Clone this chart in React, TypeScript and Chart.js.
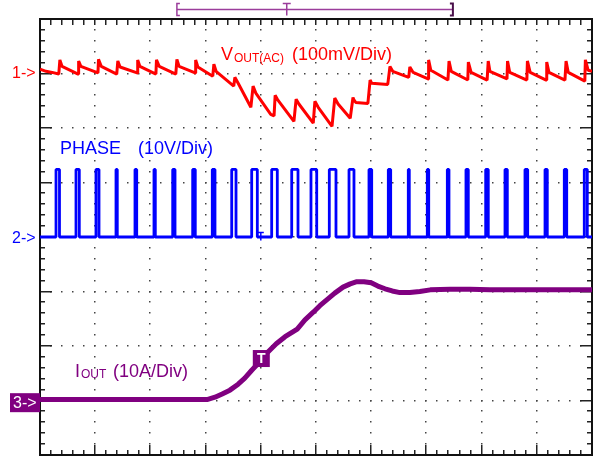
import React, { useEffect, useRef } from 'react';
import { Chart, registerables } from 'chart.js';

Chart.register(...registerables);

// ---- screen geometry (divisions) ----
const X_DIVS = 10;
const Y_DIVS = 8;

// ---- channel settings ----
const CH1_OFFSET_DIV = 7.03; // VOUT(AC) ground marker
const CH1_MV_PER_DIV = 100;
const CH2_OFFSET_DIV = 4.0; // PHASE ground marker
const CH2_V_PER_DIV = 10;
const CH3_OFFSET_DIV = 0.96; // IOUT ground marker
const CH3_A_PER_DIV = 10;

// ---- CH1: VOUT(AC) ripple + transient (time in div, value in mV) ----
const voutTime = [
  0, 0.11, 0.22, 0.34, 0.36, 0.4, 0.69, 0.7, 0.74, 1.05, 1.06, 1.11, 1.39, 1.41, 1.45,
  1.76, 1.77, 1.81, 2.1, 2.11, 2.16, 2.46, 2.48, 2.52, 2.81, 2.82, 2.86, 3.13, 3.15, 3.19,
  3.51, 3.53, 3.59, 3.82, 3.86, 3.91, 4.18, 4.24, 4.26, 4.31, 4.6, 4.64, 4.69, 4.95, 4.98,
  5.04, 5.29, 5.34, 5.4, 5.62, 5.67, 5.69, 5.72, 5.94, 5.98, 6.01, 6.3, 6.34, 6.39, 6.68,
  6.7, 6.76, 7.03, 7.04, 7.08, 7.39, 7.41, 7.45, 7.75, 7.76, 7.81, 8.1, 8.12, 8.15, 8.46,
  8.47, 8.51, 8.82, 8.83, 8.88, 9.17, 9.18, 9.22, 9.51, 9.53, 9.57, 9.87, 9.88, 9.93, 10.0,
];
const voutMv = [
  5, 1, -1, -4, 22, 10, -4, 20, 10, -2, 23, 10, -4, 20, 9,
  -2, 22, 10, -4, 22, 10, -4, 23, 10, -2, 22, 9, -8, 14, 1,
  -26, -10, -21, -65, -26, -39, -78, -81, -43, -52, -91, -50, -59, -94, -54,
  -65, -100, -48, -59, -85, -47, -52, -56, -58, -15, -21, -23, 10, 1, -10,
  9, -1, -13, 22, 3, -15, 20, 1, -15, 18, -1, -15, 20, 1, -13,
  20, -1, -15, 20, -1, -15, 18, -1, -15, 20, -1, -17, 22, 3, 1,
];

// ---- CH2: PHASE switching node (pulse edges in div, level in V) ----
const phaseRise = [
  0.29, 0.652, 1.014, 1.377, 1.721, 2.065, 2.404, 2.766, 3.121, 3.473, 3.835, 4.197, 4.56, 4.909,
  5.241, 5.598, 5.96, 6.31, 6.672, 7.016, 7.379, 7.717, 8.074, 8.424, 8.786, 9.149, 9.498, 9.86,
];
const phaseFall = [
  0.353, 0.712, 1.069, 1.4, 1.752, 2.089, 2.446, 2.813, 3.17, 3.551, 3.937, 4.299, 4.674, 5.013,
  5.362, 5.688, 6.009, 6.353, 6.69, 7.042, 7.409, 7.759, 8.121, 8.466, 8.835, 9.19, 9.542, 9.915,
];
const PHASE_HIGH_V = 12.4;

// ---- CH3: IOUT (time in div, value in A) ----
const ioutTime = [
  0, 1.09, 1.99, 2.9, 3.04, 3.17, 3.3, 3.44, 3.59, 3.71, 3.84, 3.99, 4.13, 4.28, 4.44, 4.66,
  4.8, 4.95, 5.07, 5.2, 5.34, 5.49, 5.62, 5.74, 5.87, 6.0, 6.12, 6.25, 6.38, 6.52, 6.7, 6.88,
  7.07, 7.43, 7.79, 8.15, 8.51, 9.06, 9.6, 10.0,
];
const ioutAmps = [
  0.6, 0.6, 0.6, 0.6, 0.6, 1.0, 1.6, 2.3, 3.4, 4.5, 6.0, 7.6, 9.3, 10.8, 12.1, 13.5,
  15.2, 16.6, 17.8, 18.9, 20.1, 21.2, 21.8, 22.2, 22.2, 22.0, 21.4, 20.9, 20.5, 20.2, 20.2, 20.4,
  20.7, 20.8, 20.8, 20.7, 20.7, 20.7, 20.7, 20.7,
];

// ---- trigger & record window (div) ----
const TRIGGER_T = 4.0;
const TRIGGER_A = 8.1;
const RECORD_START = 2.48;
const RECORD_END = 7.48;
const RECORD_TRIGGER = 4.47;

const FONT = '"Liberation Sans", Arial, Helvetica, sans-serif';
const RED = '#ff0000';
const BLUE = '#0000ff';
const PURPLE = '#800080';

function buildVout() {
  return voutTime.map((t, i) => ({ x: t, y: CH1_OFFSET_DIV + voutMv[i] / CH1_MV_PER_DIV }));
}
function buildPhase() {
  const pts: { x: number; y: number }[] = [{ x: 0, y: CH2_OFFSET_DIV }];
  const hi = CH2_OFFSET_DIV + PHASE_HIGH_V / CH2_V_PER_DIV;
  phaseRise.forEach((r, i) => {
    const f = phaseFall[i];
    pts.push({ x: r, y: CH2_OFFSET_DIV }, { x: r, y: hi }, { x: f, y: hi }, { x: f, y: CH2_OFFSET_DIV });
  });
  pts.push({ x: X_DIVS, y: CH2_OFFSET_DIV });
  return pts;
}
function buildIout() {
  return ioutTime.map((t, i) => ({ x: t, y: CH3_OFFSET_DIV + ioutAmps[i] / CH3_A_PER_DIV }));
}

const scopePlugin = {
  id: 'scopeDecor',
  beforeDatasetsDraw(chart: any) {
    const { ctx, chartArea: a, scales } = chart;
    const xs = scales.x;
    const ys = scales.y;
    ctx.save();
    // dotted graticule
    ctx.fillStyle = '#444';
    for (let i = 1; i < X_DIVS; i++) {
      const px = Math.round(xs.getPixelForValue(i));
      for (let k = 1; k < Y_DIVS * 5; k++) {
        const py = Math.round(ys.getPixelForValue(k / 5));
        ctx.fillRect(px - 1, py - 1, 1.5, 1.5);
      }
    }
    for (let j = 1; j < Y_DIVS; j++) {
      const py = Math.round(ys.getPixelForValue(j));
      for (let k = 1; k < X_DIVS * 5; k++) {
        const px = Math.round(xs.getPixelForValue(k / 5));
        ctx.fillRect(px - 1, py - 1, 1.5, 1.5);
      }
    }
    // edge ticks
    ctx.strokeStyle = '#222';
    ctx.lineWidth = 1.5;
    ctx.beginPath();
    for (let k = 1; k < X_DIVS * 5; k++) {
      const px = Math.round(xs.getPixelForValue(k / 5)) - 0.25;
      const major = k % 5 === 0;
      ctx.moveTo(px, a.top);
      ctx.lineTo(px, a.top + 6);
      ctx.moveTo(px, a.bottom);
      ctx.lineTo(px, a.bottom - (major ? 10 : 5));
    }
    for (let k = 1; k < Y_DIVS * 5; k++) {
      const py = Math.round(ys.getPixelForValue(k / 5)) - 0.25;
      const major = k % 5 === 0;
      ctx.moveTo(a.left, py);
      ctx.lineTo(a.left + (major ? 12 : 5), py);
      ctx.moveTo(a.right, py);
      ctx.lineTo(a.right - (major ? 12 : 5), py);
    }
    ctx.stroke();
    // frame
    ctx.strokeStyle = '#111';
    ctx.lineWidth = 2;
    ctx.strokeRect(a.left, a.top, a.right - a.left, a.bottom - a.top);
    ctx.restore();
  },
  afterDatasetsDraw(chart: any) {
    const { ctx, chartArea: a, scales } = chart;
    const xs = scales.x;
    const ys = scales.y;
    ctx.save();
    ctx.textBaseline = 'alphabetic';
    ctx.textAlign = 'left';

    // channel ground markers
    const y1 = ys.getPixelForValue(CH1_OFFSET_DIV);
    const y2 = ys.getPixelForValue(CH2_OFFSET_DIV);
    const y3 = ys.getPixelForValue(CH3_OFFSET_DIV);
    ctx.font = `16px ${FONT}`;
    ctx.textBaseline = 'middle';
    ctx.fillStyle = RED;
    ctx.fillText('1->', 12, y1 + 2);
    ctx.fillStyle = BLUE;
    ctx.fillText('2->', 12, y2 + 2);
    ctx.fillStyle = PURPLE;
    ctx.fillRect(10, y3 - 9.5, a.left - 10, 19);
    ctx.fillStyle = '#fff';
    ctx.fillText('3->', 13, y3 + 1);

    // channel labels
    ctx.textBaseline = 'alphabetic';
    const big = `18px ${FONT}`;
    const small = `12px ${FONT}`;
    // VOUT(AC)
    ctx.fillStyle = RED;
    ctx.font = big;
    ctx.fillText('V', 221, 60);
    let w = ctx.measureText('V').width;
    ctx.font = small;
    ctx.fillText('OUT(AC)', 221 + w + 1, 62);
    ctx.font = big;
    ctx.fillText('(100mV/Div)', 292, 60);
    // PHASE
    ctx.fillStyle = BLUE;
    ctx.fillText('PHASE', 60, 154);
    ctx.fillText('(10V/Div)', 138, 154);
    // IOUT
    ctx.fillStyle = PURPLE;
    ctx.fillText('I', 75, 377);
    w = ctx.measureText('I').width;
    ctx.font = small;
    ctx.fillText('OUT', 75 + w + 1, 378);
    ctx.font = big;
    ctx.fillText('(10A/Div)', 113, 377);

    // trigger box on IOUT
    const tx = xs.getPixelForValue(TRIGGER_T);
    const ty = ys.getPixelForValue(CH3_OFFSET_DIV + TRIGGER_A / CH3_A_PER_DIV);
    ctx.fillStyle = PURPLE;
    ctx.fillRect(tx - 8, ty - 8.5, 17, 17);
    ctx.fillStyle = '#fff';
    ctx.font = `bold 14px ${FONT}`;
    ctx.textAlign = 'center';
    ctx.textBaseline = 'middle';
    ctx.fillText('T', tx + 0.5, ty + 0.5);

    // small trigger mark on PHASE
    ctx.strokeStyle = BLUE;
    ctx.lineWidth = 1.5;
    ctx.beginPath();
    ctx.moveTo(tx - 3, y2 - 4.5);
    ctx.lineTo(tx + 3, y2 - 4.5);
    ctx.moveTo(tx, y2 - 4.5);
    ctx.lineTo(tx, y2 + 3.5);
    ctx.stroke();

    // record window bracket above the screen
    const bx0 = xs.getPixelForValue(RECORD_START);
    const bx1 = xs.getPixelForValue(RECORD_END);
    const bxt = xs.getPixelForValue(RECORD_TRIGGER);
    const by = 9.5;
    ctx.strokeStyle = '#9b3d9b';
    ctx.lineWidth = 1.5;
    ctx.beginPath();
    ctx.moveTo(bx0, by);
    ctx.lineTo(bx1, by);
    ctx.moveTo(bx0 + 3, 3.5);
    ctx.lineTo(bx0, 3.5);
    ctx.lineTo(bx0, 15.5);
    ctx.lineTo(bx0 + 3, 15.5);
    ctx.moveTo(bxt - 4, 3.5);
    ctx.lineTo(bxt + 4, 3.5);
    ctx.moveTo(bxt, 3.5);
    ctx.lineTo(bxt, 15.5);
    ctx.stroke();
    ctx.strokeStyle = '#4a104a';
    ctx.lineWidth = 2;
    ctx.beginPath();
    ctx.moveTo(bx1 - 3, 3.5);
    ctx.lineTo(bx1, 3.5);
    ctx.lineTo(bx1, 15.5);
    ctx.lineTo(bx1 - 3, 15.5);
    ctx.stroke();
    ctx.restore();
  },
};

export default function App() {
  const ref = useRef<HTMLCanvasElement>(null);
  useEffect(() => {
    const canvas = ref.current;
    if (!canvas) return;
    const chart = new Chart(canvas, {
      type: 'line',
      data: {
        datasets: [
          {
            label: 'VOUT(AC)',
            data: buildVout(),
            borderColor: RED,
            borderWidth: 3,
            borderJoinStyle: 'bevel',
            pointRadius: 0,
            tension: 0,
          },
          {
            label: 'PHASE',
            data: buildPhase(),
            borderColor: BLUE,
            borderWidth: 2.8,
            borderJoinStyle: 'bevel',
            pointRadius: 0,
            tension: 0,
          },
          {
            label: 'IOUT',
            data: buildIout(),
            borderColor: PURPLE,
            borderWidth: 5,
            borderJoinStyle: 'round',
            pointRadius: 0,
            tension: 0,
          },
        ],
      },
      options: {
        responsive: false,
        animation: false,
        events: [],
        layout: { padding: { left: 40, top: 19, right: 7, bottom: 3 } },
        scales: {
          x: { type: 'linear', min: 0, max: X_DIVS, display: false },
          y: { type: 'linear', min: 0, max: Y_DIVS, display: false },
        },
        plugins: { legend: { display: false }, tooltip: { enabled: false } },
      },
      plugins: [scopePlugin],
    } as any);
    return () => chart.destroy();
  }, []);
  return (
    <div style={{ position: 'fixed', left: 0, top: 0, width: 599, height: 458, background: '#fff' }}>
      <canvas ref={ref} width={599} height={458} style={{ display: 'block' }} />
    </div>
  );
}
